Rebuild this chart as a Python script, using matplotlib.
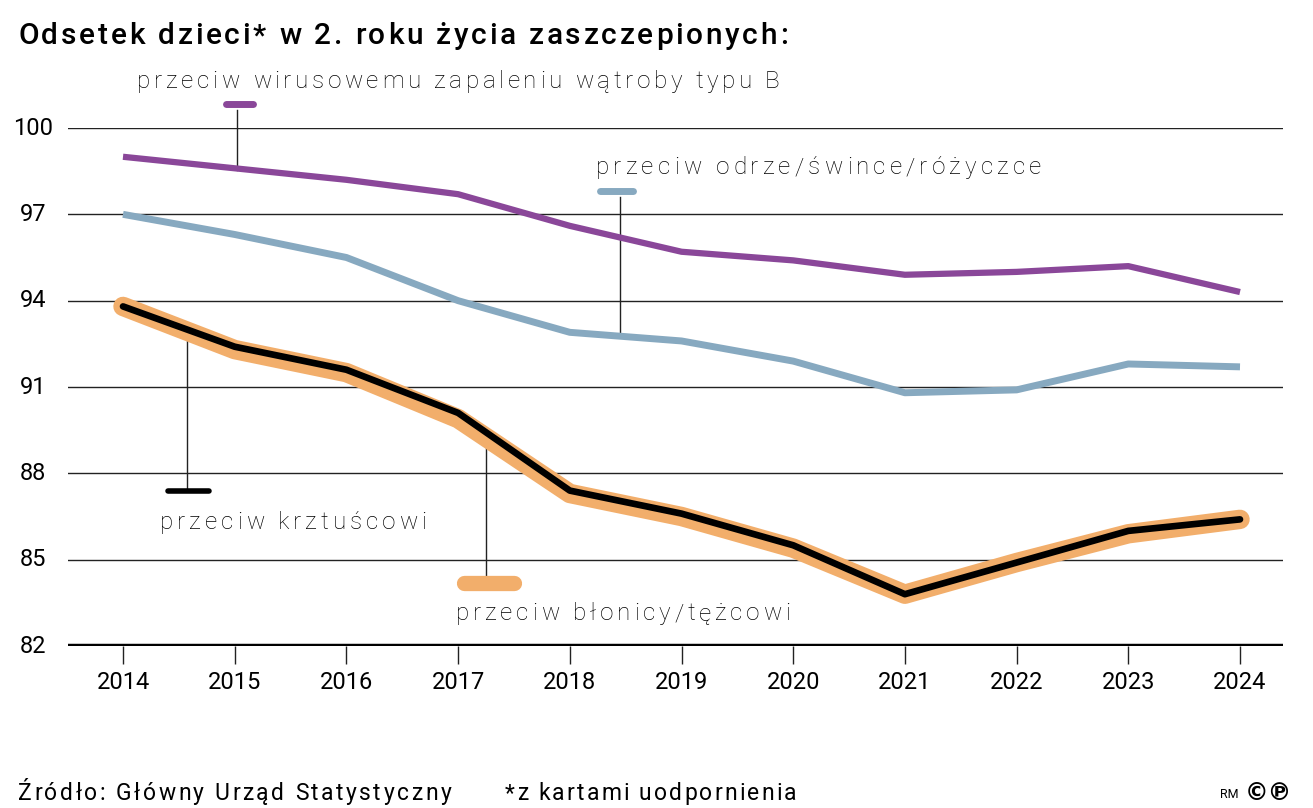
import matplotlib
matplotlib.use("Agg")
import matplotlib.pyplot as plt
from matplotlib.font_manager import FontProperties, findfont, get_font
from matplotlib.ft2font import LOAD_NO_HINTING
from matplotlib.transforms import IdentityTransform

years = [2014, 2015, 2016, 2017, 2018, 2019, 2020, 2021, 2022, 2023, 2024]
hep_b = [99.0, 98.6, 98.2, 97.7, 96.6, 95.7, 95.4, 94.9, 95.0, 95.2, 94.3]
mmr = [97.0, 96.3, 95.5, 94.0, 92.9, 92.6, 91.9, 90.8, 90.9, 91.8, 91.7]
pertussis = [93.8, 92.4, 91.6, 90.1, 87.4, 86.6, 85.5, 83.8, 84.9, 86.0, 86.4]
diphtheria = [93.8, 92.3, 91.5, 89.9, 87.3, 86.5, 85.4, 83.8, 84.9, 85.9, 86.4]
yticks = [82, 85, 88, 91, 94, 97, 100]

title = "Odsetek dzieci* w 2. roku życia zaszczepionych:"
lbl_hep = "przeciw wirusowemu zapaleniu wątroby typu B"
lbl_mmr = "przeciw odrze/śwince/różyczce"
lbl_per = "przeciw krztuścowi"
lbl_dip = "przeciw błonicy/tężcowi"
source = "Źródło: Główny Urząd Statystyczny"
note = "*z kartami uodpornienia"

PURPLE = "#8a4799"
BLUE = "#87a9c0"
ORANGE = "#f2ae6b"
BLACK = "#000000"

plt.rcParams['font.family'] = ['Roboto', 'DejaVu Sans']

W, H, DPI = 1313, 808, 100
fig = plt.figure(figsize=(W / DPI, H / DPI), dpi=DPI)


def tracked_text(s, x_left, y_base, x_right, size, weight='normal', color='black'):
    """Draw text char by char (pixel coords, y from top) spread to span x_left..x_right."""
    fp = FontProperties(family='Roboto', weight=weight, size=size)
    font = get_font(findfont(fp))
    font.set_size(size, DPI)
    advs = []
    for c in s:
        g = font.load_char(ord(c), flags=LOAD_NO_HINTING)
        advs.append(g.linearHoriAdvance / 65536.0)
    natural = sum(advs[:-1]) + advs[-1] * 0.9
    track = (x_right - x_left - natural) / max(len(s) - 1, 1)
    x = x_left
    for c, a in zip(s, advs):
        if c != ' ':
            fig.text(x, H - y_base, c, transform=IdentityTransform(), fontproperties=fp,
                     color=color, ha='left', va='baseline')
        x += a + track


ax = fig.add_axes([68 / W, 1 - 646 / H, (1283 - 68) / W, (646 - 128) / H])
ax.set_xlim(2014 - 55 / 111.7, 2024 + 43 / 111.7)
ax.set_ylim(82, 100)

for yv in yticks[1:]:
    ax.axhline(yv, color="#222222", lw=1.0, zorder=1)
ax.axhline(82, color="black", lw=3.2, zorder=5)

ax.plot(years, hep_b, color=PURPLE, lw=4.5, solid_capstyle='butt', zorder=3)
ax.plot(years, mmr, color=BLUE, lw=5.0, solid_capstyle='butt', zorder=3)
ax.plot(years, diphtheria, color=ORANGE, lw=14, solid_capstyle='round', solid_joinstyle='round', zorder=3)
ax.plot(years, pertussis, color=BLACK, lw=4.8, solid_capstyle='round', zorder=4)

for s in ax.spines.values():
    s.set_visible(False)
ax.set_yticks(yticks)
ax.set_yticklabels([])
ax.tick_params(axis='y', length=0)
for yv in yticks:
    ax.text(-35 / 1215, yv, str(yv), transform=ax.get_yaxis_transform(), ha='center', va='center',
            fontsize=17, color='black')
ax.set_xticks(years)
ax.set_xticklabels([str(y) for y in years], fontsize=17)
ax.tick_params(axis='x', length=13, width=1, color='#222222', pad=5, direction='out')


def marker(x0, x1, y, color, lw):
    ax.plot([x0, x1], [y, y], color=color, lw=lw, solid_capstyle='round', clip_on=False, zorder=6)


def leader(x, y0, y1):
    ax.plot([x, x], [y0, y1], color="#222222", lw=1.0, clip_on=False, zorder=2)


marker(2014.92, 2015.16, 100.83, PURPLE, 5)
leader(2015.02, 100.62, 98.55)
marker(2018.27, 2018.57, 97.8, BLUE, 5)
leader(2018.45, 97.6, 92.75)
marker(2014.4, 2014.77, 87.4, BLACK, 4)
leader(2014.57, 93.05, 87.4)
marker(2017.05, 2017.5, 84.2, ORANGE, 11)
leader(2017.25, 89.2, 84.4)

tracked_text(lbl_hep, 137, 88, 778, 17.5, weight='light')
tracked_text(lbl_mmr, 596, 174, 1040, 17.5, weight='light')
tracked_text(lbl_per, 160, 529, 426, 17.5, weight='light')
tracked_text(lbl_dip, 456, 620, 790, 17.5, weight='light')

tracked_text(title, 18, 44, 787, 21.5, weight='medium')
tracked_text(source, 18, 800, 450, 16.5)
tracked_text(note, 505, 800, 795, 16.5)
fig.text(1220 / W, 1 - 795 / H, "RM", fontsize=9, va='center', ha='left')
fig.text(1245 / W, 1 - 793 / H, "©℗", fontsize=17, fontweight='bold', va='center', ha='left',
         family=['DejaVu Sans'])

fig.savefig("out.png", dpi=DPI)
